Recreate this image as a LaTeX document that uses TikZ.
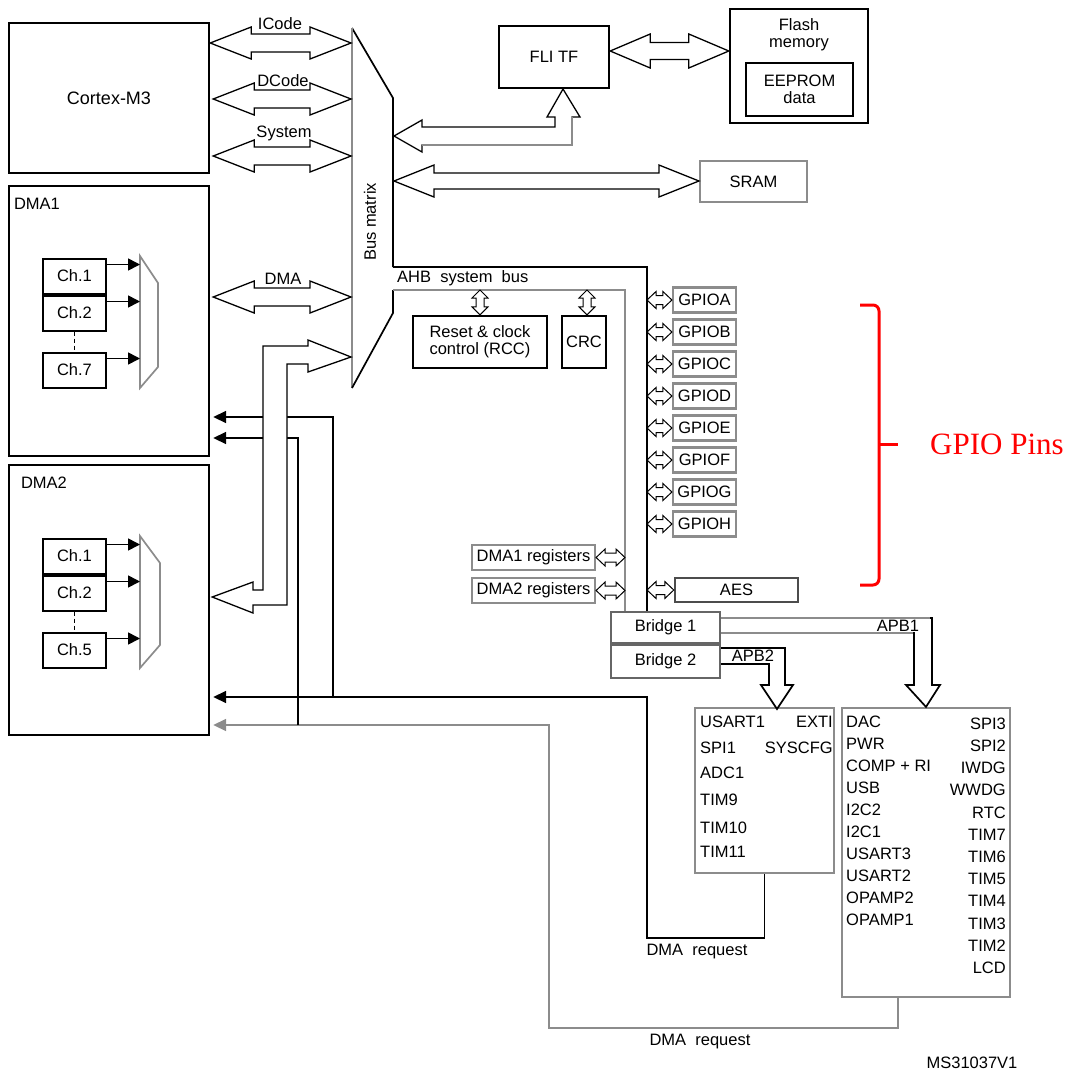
\documentclass[tikz,border=0pt]{standalone}
\usepackage{fontspec}
\setmainfont{Liberation Sans}
\newfontfamily\timesfont{Liberation Serif}
\usetikzlibrary{arrows.meta,positioning,calc}

\tikzset{
  % hollow double arrow between two points (head length, head half width, shaft half width)
  hdbl/.style n args={3}{to path={let \p1=(\tikztostart), \p2=(\tikztotarget) in
    (\x1,\y1) -- ({\x1+#1},{\y1+#2}) -- ({\x1+#1},{\y1+#3}) -- ({\x2-#1},{\y1+#3}) -- ({\x2-#1},{\y1+#2})
    -- (\x2,\y1) -- ({\x2-#1},{\y1-#2}) -- ({\x2-#1},{\y1-#3}) -- ({\x1+#1},{\y1-#3}) -- ({\x1+#1},{\y1-#2}) -- cycle}},
  vdbl/.style n args={3}{to path={let \p1=(\tikztostart), \p2=(\tikztotarget) in
    (\x1,\y1) -- ({\x1+#2},{\y1-#1}) -- ({\x1+#3},{\y1-#1}) -- ({\x1+#3},{\y2+#1}) -- ({\x1+#2},{\y2+#1})
    -- (\x1,\y2) -- ({\x1-#2},{\y2+#1}) -- ({\x1-#3},{\y2+#1}) -- ({\x1-#3},{\y1-#1}) -- ({\x1-#2},{\y1-#1}) -- cycle}},
}

\begin{document}
\begin{tikzpicture}[x=1pt,y=-1pt,
  every node/.style={font=\fontsize{16.5}{17}\selectfont, inner sep=0pt},
  blkbox/.style={draw, line width=2.4pt},
  grybox/.style={draw=black!45, line width=2.2pt},
  chbox/.style={draw, line width=2pt, minimum width=63, minimum height=35},
  wire/.style={line width=1.7pt},
  gwire/.style={draw=black!45, line width=1.7pt},
  hollow/.style={draw, line width=1.3pt, fill=white, line join=miter},
  req/.style={-{Triangle[length=13pt,width=12pt]}},
  charr/.style={wire, -{Triangle[length=12pt,width=12pt]}}]
\useasboundingbox (0,0) rectangle (1071,1074);

% core and DMA controllers
\node[blkbox, minimum width=200, minimum height=150] (cortex) at (109,98) {\fontsize{18}{20}\selectfont Cortex-M3};
\node[blkbox, minimum width=200, minimum height=270,
  label={[anchor=north west, xshift=6pt, yshift=-13pt]north west:DMA1}] (dmaone) at (109,321) {};
\node[blkbox, minimum width=200, minimum height=270,
  label={[anchor=north west, xshift=13pt, yshift=-13pt]north west:DMA2}] (dmatwo) at (109,600) {};

\node[chbox] (aone) at (74.5,276) {Ch.1};
\node[chbox, below=0pt of aone] (atwo) {Ch.2};
\node[chbox] (aseven) at (74.5,370) {Ch.7};
\node[chbox] (bone) at (74.5,556) {Ch.1};
\node[chbox, below=0pt of bone] (btwo) {Ch.2};
\node[chbox] (bfive) at (74.5,650) {Ch.5};
\draw[wire, dash pattern=on 4pt off 3pt] (atwo.south) -- (aseven.north);
\draw[wire, dash pattern=on 4pt off 3pt] (btwo.south) -- (bfive.north);

\coordinate (muxa) at (140,256);
\coordinate (muxb) at (140,536);
\draw[gwire] (muxa) -- ++(18,27) -- ++(0,84) -- ++(-18,21) -- cycle;
\draw[gwire] (muxb) -- ++(20,27) -- ++(0,82) -- ++(-20,23) -- cycle;
\foreach \c in {aone,atwo,aseven}{
  \path ($(\c.north east)+(0,7)$) coordinate (s);
  \draw[charr] (s) -- (s -| muxa);
}
\foreach \c in {bone,btwo,bfive}{
  \path ($(\c.north east)+(0,7)$) coordinate (s);
  \draw[charr] (s) -- (s -| muxb);
}

% bus matrix
\coordinate (bmtop) at (352,28);
\coordinate (ahbtop) at (393,267);
\coordinate (ahbbot) at (393,290);
\draw[wire] (ahbtop) -- (393,98) -- (bmtop);
\draw[gwire] (bmtop) -- (352,388);
\draw[wire] (352,388) -- (393,313) -- (ahbbot);
\node[rotate=90] (bmtext) at (370,222) {Bus matrix};

\coordinate (bmic) at (351,43);
\coordinate (bmdc) at (351,99);
\coordinate (bmsys) at (351,156);
\coordinate (bmdma) at (351,297);
\draw[hollow] (cortex.east |- bmic) to[hdbl={41}{16}{9}] (bmic);
\draw[hollow] ($(cortex.east |- bmdc)+(3,0)$) to[hdbl={41}{16}{9}] (bmdc);
\draw[hollow] ($(cortex.east |- bmsys)+(3,0)$) to[hdbl={41}{16}{9}] (bmsys);
\draw[hollow] ($(dmaone.east |- bmdma)+(3,0)$) to[hdbl={41}{16}{9}] (bmdma);
\node (icode) at (280,24) {ICode};
\node (dcode) at (283,81) {DCode};
\node (sysbus) at (284,133) {System};
\node (dmabus) at (283,279) {DMA};

% memories
\node[blkbox, minimum width=110, minimum height=62] (flitf) at (554,57) {FLI TF};
\node[blkbox, minimum width=138, minimum height=114,
  label={[anchor=north, align=center, yshift=-11pt]north:Flash\\memory}] (flash) at (799,66) {};
\node[blkbox, minimum width=107, minimum height=53, align=center] (eeprom) at (799.5,89.5) {EEPROM\\data};
\draw[hollow] ($(flitf.east)+(0,-6)$) to[hdbl={40}{17}{8.5}] (flash.west);
\node[grybox, minimum width=107, minimum height=41] (sram) at (753.5,181.5) {SRAM};
\coordinate (bmsram) at (394,181);
\draw[hollow] (bmsram) to[hdbl={40}{16}{8}] (sram.west);
\draw[hollow] (394,136) -- (422,120) -- (422,127) -- (555,127) -- (555,117) -- (547,117) -- (563,89)
  -- (580,117) -- (572,117) -- (572,145) -- (422,145) -- (422,152) -- cycle;
\draw[gwire] (572,117) -- (572,145) -- (422,145);

% AHB peripherals
\node[grybox, draw=black!60, minimum width=109, minimum height=31] (bridgeone) at (665.5,627.5) {Bridge 1};
\node[grybox, draw=black!60, minimum width=109, minimum height=33, below=0pt of bridgeone] (bridgetwo) {Bridge 2};
\coordinate (busk) at (647,267);
\coordinate (busg) at (625,290);
\draw[wire] (ahbtop) -- (busk) -- (busk |- bridgeone.north);
\draw[gwire] (ahbbot) -- (busg) -- (busg |- bridgeone.north);
\node[anchor=north west] (ahblabel) at (397,270) {AHB\ \ system\ \ bus};

\node[blkbox, minimum width=134, minimum height=52, align=left] (rcc) at (480,342) {Reset \& clock\\control (RCC)};
\node[blkbox, minimum width=44, minimum height=52] (crc) at (584,342) {CRC};
\draw[hollow, line width=1pt] (rcc.north |- busg) to[vdbl={8}{8}{4}] (rcc.north);
\draw[hollow, line width=1pt] ($(crc.north |- busg)+(3,0)$) to[vdbl={8}{8}{4}] (crc.north);

\foreach \g [count=\i from 0] in {A,...,H}{
  \node[grybox, minimum width=63, minimum height=25] (gpio\g) at (704.5,{300+32*\i}) {GPIO\g};
  \draw[hollow, line width=1pt] (busk |- gpio\g.west) to[hdbl={9}{8.5}{4.5}] (gpio\g.west);
}
\node[grybox, minimum width=123, minimum height=25] (dmaoneregs) at (533.5,557.5) {DMA1 registers};
\node[grybox, minimum width=123, minimum height=25] (dmatworegs) at (533.5,590.5) {DMA2 registers};
\draw[hollow, line width=1pt] (dmaoneregs.east) to[hdbl={9}{8.5}{4.5}] (busg |- dmaoneregs.east);
\draw[hollow, line width=1pt] (dmatworegs.east) to[hdbl={9}{8.5}{4.5}] (busg |- dmatworegs.east);
\node[blkbox, draw=black!70, minimum width=123, minimum height=24] (aes) at (736.5,590) {AES};
\draw[hollow, line width=1pt] (busk |- aes.west) to[hdbl={9}{8.5}{4.5}] (aes.west);

% APB buses
\node[grybox, minimum width=139, minimum height=165] (apbtwo) at (764.5,790.5) {};
\node[grybox, minimum width=168, minimum height=289] (apbone) at (926,852.5) {};
\draw[wire, line join=miter] (721,618) -- (932,618) -- (932,685) -- (940,685) -- (apbone.north)
  -- (906,685) -- (914,685) -- (914,633) -- (721,633);
\draw[gwire] (721,618) -- (930,618);
\draw[gwire] (721,633) -- (913,633);
\node (apbonelabel) at (898,626) {APB1};
\draw[wire, line join=miter] (721,648) -- (785,648) -- (785,685) -- (793,685) -- (777,709)
  -- (761,685) -- (769,685) -- (769,664) -- (721,664);
\node (apbtwolabel) at (753,656) {APB2};

\foreach \t/\y [count=\i] in {USART1/722, SPI1/748, ADC1/773, TIM9/800, TIM10/828, TIM11/852}
  \node[anchor=west] (ptwol\i) at (700,\y) {\t};
\foreach \t/\y [count=\i] in {EXTI/722, SYSCFG/748}
  \node[anchor=east] (ptwor\i) at (833,\y) {\t};
\foreach \t/\y [count=\i] in {DAC/722, PWR/744, COMP + RI/766, USB/788, I2C2/810, I2C1/832,
    USART3/854, USART2/876, OPAMP2/898, OPAMP1/920}
  \node[anchor=west] (ponel\i) at (846,\y) {\t};
\foreach \t/\y [count=\i] in {SPI3/724, SPI2/746, IWDG/768, WWDG/790, RTC/813, TIM7/835,
    TIM6/857, TIM5/879, TIM4/901, TIM3/924, TIM2/946, LCD/968}
  \node[anchor=east] (poner\i) at (1006,\y) {\t};

% DMA requests
\coordinate (rqa) at (647,697);
\coordinate (rqb) at (549,725);
\coordinate (rqasplit) at (333,697);
\coordinate (rqaone) at (333,417);
\coordinate (rqbsplit) at (298,725);
\coordinate (rqbone) at (298,438);
\draw[wire, req] (apbtwo.south) -- ++(0,64) -| (rqa) -- ($(dmatwo.east |- rqa)+(3,0)$);
\draw[wire, req] (rqasplit) -- (rqaone) -- ($(dmaone.east |- rqaone)+(3,0)$);
\draw[gwire, req] ($(apbone.south)+(-28,0)$) -- ++(0,30) -| (rqb) -- ($(dmatwo.east |- rqb)+(3,0)$);
\draw[wire, req] (rqbsplit) -- (rqbone) -- ($(dmaone.east |- rqbone)+(3,0)$);
\node (reqone) at (697,952) {DMA\ \ request};
\node (reqtwo) at (700,1042) {DMA\ \ request};

\coordinate (bmdmatwo) at (351,357);
\draw[hollow] (bmdmatwo) -- (308,340) -- (308,346) -- (263,346) -- (263,590) -- (253,590) -- (253,582)
  -- ($(dmatwo.east |- 0,597)+(2,0)$) -- (253,613) -- (253,605) -- (287,605) -- (287,364) -- (308,364)
  -- (308,372) -- cycle;

% GPIO brace
\draw[red, line width=3pt, rounded corners=6pt] (860,305) -- (879,305) -- (879,585) -- (860,585);
\draw[red, line width=3pt] (879,444) -- (898,444);
\node[anchor=west, text=red, font=\timesfont\fontsize{31}{33}\selectfont] (gpiopins) at (930,444) {GPIO Pins};

\node (msid) at (972,1063) {MS31037V1};
\end{tikzpicture}
\end{document}
